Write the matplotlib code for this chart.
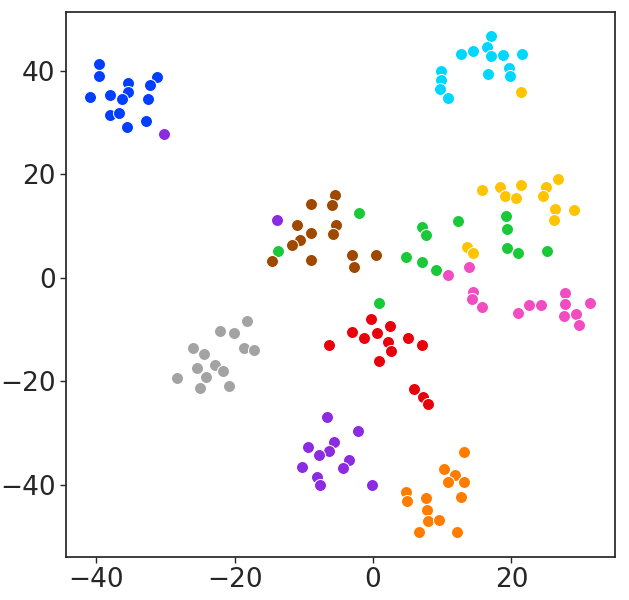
import matplotlib
matplotlib.use("Agg")
import matplotlib.pyplot as plt
import seaborn as sns

# t-SNE embedding, one list pair per class
blue_x = [-39.7, -39.7, -35.5, -31.2, -32.2, -35.4, -40.9, -38.0, -36.3, -32.6, -38.0, -36.7, -32.9, -35.6]
blue_y = [41.3, 39.0, 37.6, 38.8, 37.2, 35.9, 34.9, 35.3, 34.5, 34.6, 31.4, 31.8, 30.4, 29.2]

orange_x = [13.2, 10.3, 11.9, 10.9, 13.2, 12.7, 4.7, 4.9, 7.7, 7.8, 8.0, 9.6, 6.6, 12.1]
orange_y = [-33.7, -36.9, -38.1, -39.5, -39.4, -42.3, -41.4, -43.2, -42.6, -44.8, -47.0, -46.8, -49.1, -49.2]

green_x = [-13.8, -2.0, 19.2, 19.3, 12.3, 7.0, 7.7, 19.4, 21.0, 25.2, 4.7, 7.0, 9.1, 0.8]
green_y = [5.3, 12.5, 11.9, 9.4, 11.1, 9.8, 8.3, 5.7, 4.8, 5.2, 4.0, 3.1, 1.6, -4.8]

red_x = [-6.4, -0.3, -3.0, -1.3, 0.5, 2.5, 2.2, 2.6, 0.9, 5.1, 7.0, 5.9, 7.2, 8.0]
red_y = [-12.9, -7.9, -10.4, -11.7, -10.6, -9.3, -12.4, -14.2, -16.1, -11.7, -13.0, -21.4, -23.1, -24.3]

purple_x = [-30.3, -13.9, -6.7, -2.2, -9.4, -5.6, -6.4, -7.8, -3.5, -4.4, -10.3, -8.1, -7.7, -0.1]
purple_y = [27.8, 11.2, -26.8, -29.6, -32.7, -31.8, -33.5, -34.3, -35.1, -36.8, -36.5, -38.4, -40.1, -40.0]

brown_x = [-5.5, -9.0, -5.9, -11.0, -5.3, -9.0, -5.8, -10.5, -11.7, -14.6, -9.0, -3.1, -2.7, 0.4]
brown_y = [16.0, 14.3, 14.0, 10.2, 10.2, 8.6, 8.5, 7.3, 6.4, 3.3, 3.5, 4.4, 2.1, 4.4]

pink_x = [10.8, 13.8, 14.5, 14.3, 15.7, 21.0, 22.5, 24.3, 27.7, 27.8, 27.6, 29.4, 29.8, 31.3]
pink_y = [0.6, 2.1, -2.7, -4.1, -5.6, -6.8, -5.3, -5.3, -3.0, -5.0, -7.3, -7.0, -9.1, -4.9]

gray_x = [-18.2, -22.1, -20.1, -26.1, -24.5, -18.7, -17.2, -22.8, -21.7, -25.4, -24.1, -28.3, -25.0, -20.8]
gray_y = [-8.4, -10.2, -10.6, -13.5, -14.7, -13.5, -14.0, -16.9, -18.0, -17.5, -19.1, -19.3, -21.2, -20.8]

yellow_x = [21.4, 15.8, 18.4, 19.1, 20.6, 21.4, 25.0, 24.5, 26.8, 29.1, 26.3, 26.1, 13.6, 14.5]
yellow_y = [35.9, 16.9, 17.6, 15.9, 15.5, 18.0, 17.6, 15.8, 19.1, 13.1, 13.3, 11.2, 6.0, 4.8]

cyan_x = [17.1, 12.7, 14.4, 16.4, 17.0, 18.8, 21.6, 19.6, 19.8, 16.6, 9.8, 9.8, 9.7, 10.8]
cyan_y = [46.8, 43.3, 43.9, 44.7, 42.8, 43.1, 43.3, 40.5, 39.0, 39.5, 39.9, 38.3, 36.6, 34.8]

sns.set_style("ticks")
pal = sns.color_palette("bright", 10)

fig = plt.figure(figsize=(6.29, 6.0), dpi=100)
ax = fig.add_axes([0.105, 0.072, 0.873, 0.908])

groups = [(blue_x, blue_y), (orange_x, orange_y), (green_x, green_y), (red_x, red_y),
          (purple_x, purple_y), (brown_x, brown_y), (pink_x, pink_y), (gray_x, gray_y),
          (yellow_x, yellow_y), (cyan_x, cyan_y)]
for i, (gx, gy) in enumerate(groups):
    ax.scatter(gx, gy, s=75, color=pal[i], edgecolor="white", linewidth=0.75)

ax.set_xlim(-44.4, 35.0)
ax.set_ylim(-53.9, 51.4)
ax.set_xticks([-40, -20, 0, 20])
ax.set_yticks([-40, -20, 0, 20, 40])
ax.tick_params(labelsize=19, length=4, width=1, colors=".15")
for sp in ax.spines.values():
    sp.set_color(".15")
    sp.set_linewidth(1.25)

fig.savefig("out.png", dpi=100)
